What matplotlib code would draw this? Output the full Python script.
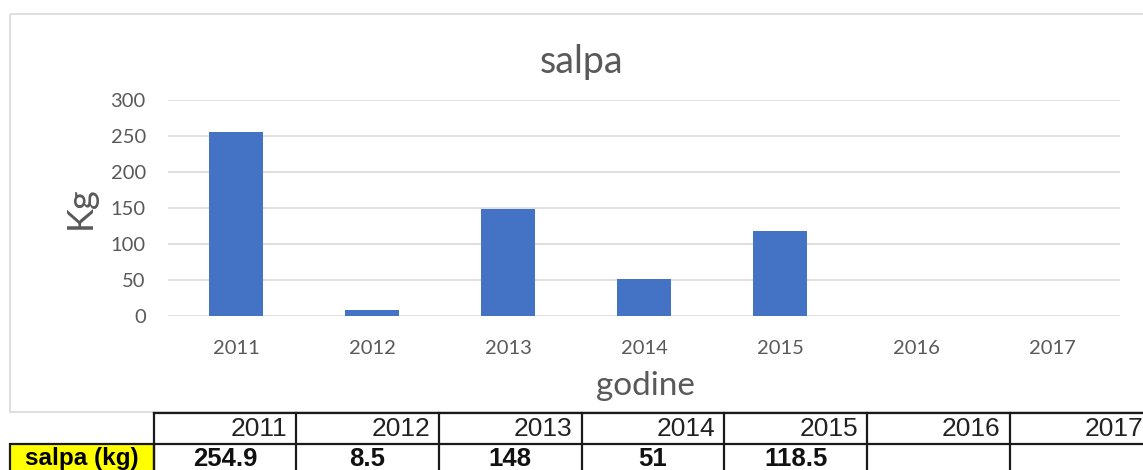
"""salpa - bar chart with data table below (Excel-style)"""

import matplotlib
matplotlib.use("Agg")
import matplotlib.pyplot as plt
import matplotlib.patches as mpatches
import numpy as np

# data
years = ["2011", "2012", "2013", "2014", "2015", "2016", "2017"]
salpa_kg = [254.9, 8.5, 148, 51, 118.5, np.nan, np.nan]
y_ticks = [0, 50, 100, 150, 200, 250, 300]
row_label = "salpa (kg)"

W, H = 1143, 470
GREY = "#595959"
CHART_FONT = ["Lato", "DejaVu Sans"]
TABLE_FONT = ["Liberation Sans", "DejaVu Sans"]


def fx(px):
    return px / W


def fy(py):
    return 1 - py / H


def draw():
    fig = plt.figure(figsize=(W / 100, H / 100), dpi=100)
    fig.patch.set_facecolor("white")

    # === chart area ===
    ax = fig.add_axes([fx(168), fy(316), fx(1120) - fx(168), fy(100) - fy(316)])
    x = np.arange(len(years))
    ax.bar(x, salpa_kg, width=0.4, color="#4472C4", zorder=3)
    ax.set_xlim(-0.5, len(years) - 0.5)
    ax.set_ylim(y_ticks[0], y_ticks[-1])
    ax.set_yticks(y_ticks)
    ax.set_xticks(x)
    ax.set_xticklabels(years)
    ax.yaxis.grid(True, color="#d9d9d9", linewidth=1.2)
    ax.set_axisbelow(True)
    for s in ax.spines.values():
        s.set_visible(False)
    ax.tick_params(axis="both", length=0, labelsize=14.5, labelcolor=GREY)
    ax.tick_params(axis="y", pad=16)
    ax.tick_params(axis="x", pad=17)
    for lbl in ax.get_xticklabels() + ax.get_yticklabels():
        lbl.set_family(CHART_FONT)

    fig.text(fx(582), fy(62), "salpa", ha="center", va="center",
             fontsize=27, color=GREY, family=CHART_FONT)
    fig.text(fx(80), fy(208), "Kg", ha="center", va="center", rotation=90,
             fontsize=26, color=GREY, family=CHART_FONT)
    fig.text(fx(645), fy(386), "godine", ha="center", va="center",
             fontsize=24, color=GREY, family=CHART_FONT)

    # === overlay in pixel coords: chart frame + data table ===
    ov = fig.add_axes([0, 0, 1, 1], zorder=5)
    ov.set_xlim(0, W)
    ov.set_ylim(H, 0)
    ov.axis("off")
    ov.patch.set_alpha(0)

    ov.add_patch(mpatches.Rectangle((9.5, 13.5), 1160, 398, fill=False,
                                    edgecolor="#d9d9d9", linewidth=1.2))

    col0_l, col0_r = 9.5, 153.5
    cw = 142.7
    top, mid, bot = 412.5, 444, 478
    lc = "#1a1a1a"
    lw = 1.6

    # yellow label cell
    ov.add_patch(mpatches.Rectangle((col0_l, mid), col0_r - col0_l, bot - mid,
                                    facecolor="#FFFF00", edgecolor=lc, linewidth=lw))
    ov.text((col0_l + col0_r) / 2, 459, row_label, ha="center", va="center",
            fontsize=17.5, fontweight="bold", color="black", family=TABLE_FONT)

    right_edge = col0_r + cw * len(years)
    ov.plot([col0_r, right_edge], [top, top], color=lc, linewidth=lw)
    ov.plot([col0_r, right_edge], [mid, mid], color=lc, linewidth=lw)
    for i in range(len(years) + 1):
        xv = col0_r + cw * i
        ov.plot([xv, xv], [top, bot], color=lc, linewidth=lw)

    for i, (yr, v) in enumerate(zip(years, salpa_kg)):
        left = col0_r + cw * i
        ov.text(left + cw - 9, 429, yr, ha="right", va="center",
                fontsize=19, color="#222222", family=TABLE_FONT)
        if not np.isnan(v):
            ov.text(left + cw / 2, 459, f"{v:g}", ha="center", va="center",
                    fontsize=18.5, fontweight="bold", color="#111111",
                    family=TABLE_FONT)

    fig.savefig("out.png", dpi=100, facecolor="white")
    plt.close(fig)


if __name__ == "__main__":
    draw()
